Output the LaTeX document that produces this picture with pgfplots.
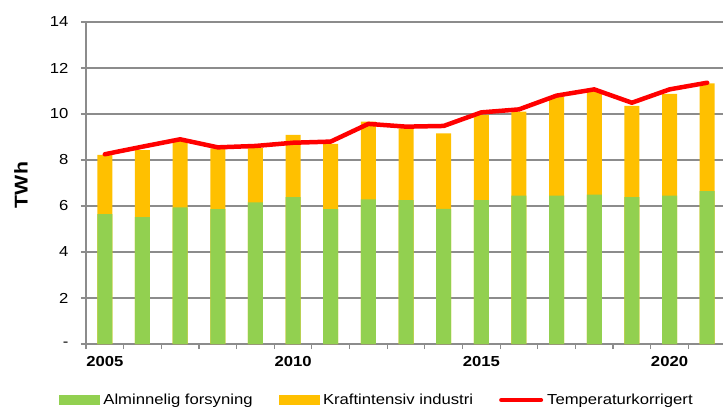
\documentclass[border=0pt]{standalone}
\usepackage{pgfplots}
\pgfplotsset{compat=1.18}
\usepackage{pgfplotstable}
\usepackage{fontspec}
\setmainfont{Liberation Sans}[FakeStretch=1.15]
\definecolor{cgreen}{HTML}{92D050}
\definecolor{cyellow}{HTML}{FFC000}
\definecolor{cgrid}{HTML}{8C8C8C}
\pgfplotstableread{
x green total line
0 5.65 8.22 8.25
1 5.52 8.43 8.58
2 5.94 8.87 8.90
3 5.86 8.51 8.55
4 6.16 8.52 8.61
5 6.39 9.09 8.75
6 5.86 8.70 8.80
7 6.29 9.67 9.57
8 6.25 9.38 9.45
9 5.87 9.16 9.48
10 6.26 9.96 10.07
11 6.45 10.10 10.20
12 6.45 10.75 10.80
13 6.49 10.97 11.07
14 6.39 10.35 10.49
15 6.45 10.87 11.07
16 6.65 11.33 11.36
}\data
\begin{document}
\begin{tikzpicture}[font=\fontsize{14.5bp}{17bp}\selectfont]
\useasboundingbox (0,0) rectangle (723bp,408bp);
\begin{axis}[
  at={(86bp,64bp)}, anchor=south west,
  scale only axis, width=637bp, height=322bp,
  xmin=-0.5, xmax=16.42, ymin=0, ymax=14,
  axis lines=left, axis line style={-, cgrid, line width=1.5bp},
  clip=false,
  tick label style={font=\fontsize{14.5bp}{17bp}\selectfont},
  xtick={0,5,10,15}, xticklabels={2005,2010,2015,2020},
  major x tick style={draw=none},
  minor xtick={-0.5,0.5,...,16.5},
  minor x tick style={cgrid, line width=1.2bp},
  minor tick length=5bp,
  ytick={0,2,...,14},
  yticklabels={{-\hspace{9bp}},2,4,6,8,10,12,14},
  major y tick style={cgrid, line width=1.2bp},
  major tick length=5bp,
  tick align=outside,
  ymajorgrids, major grid style={cgrid, line width=1.5bp},
  xticklabel style={font=\fontsize{14.5bp}{17bp}\selectfont\bfseries, yshift=-4bp},
  yticklabel style={xshift=-9bp},
  ylabel={TWh},
  every axis y label/.append style={at={(-65bp,159bp)}, anchor=center, font=\fontsize{18.5bp}{20bp}\selectfont\bfseries},
  legend style={at={(-27bp,-56bp)}, anchor=west, draw=none, fill=none,
    font=\fontsize{14.5bp}{17bp}\selectfont,
    legend columns=3, inner sep=0pt, outer sep=0pt,
    nodes={inner xsep=4bp, inner ysep=0pt, anchor=west},
    /tikz/every even column/.append style={column sep=22bp}},
  legend cell align=left,
]
\addplot[ybar, bar width=15bp, bar shift=0pt, fill=cyellow, draw=none, forget plot] table[x=x,y=total]{\data};
\addplot[ybar, bar width=15bp, bar shift=0pt, fill=cgreen, draw=none, forget plot] table[x=x,y=green]{\data};
\addplot[red, line width=4.5bp, line cap=round, line join=round, forget plot] table[x=x,y=line]{\data};
\addlegendimage{legend image code/.code={\fill[cgreen] (0bp,-4.5bp) rectangle (40bp,4.5bp);}}
\addlegendentry{Alminnelig forsyning}
\addlegendimage{legend image code/.code={\fill[cyellow] (0bp,-4.5bp) rectangle (40bp,4.5bp);}}
\addlegendentry{Kraftintensiv industri}
\addlegendimage{legend image code/.code={\draw[red, line width=4bp, line cap=round] (2bp,0bp) -- (42bp,0bp);}}
\addlegendentry{Temperaturkorrigert}
\end{axis}
\end{tikzpicture}
\end{document}
